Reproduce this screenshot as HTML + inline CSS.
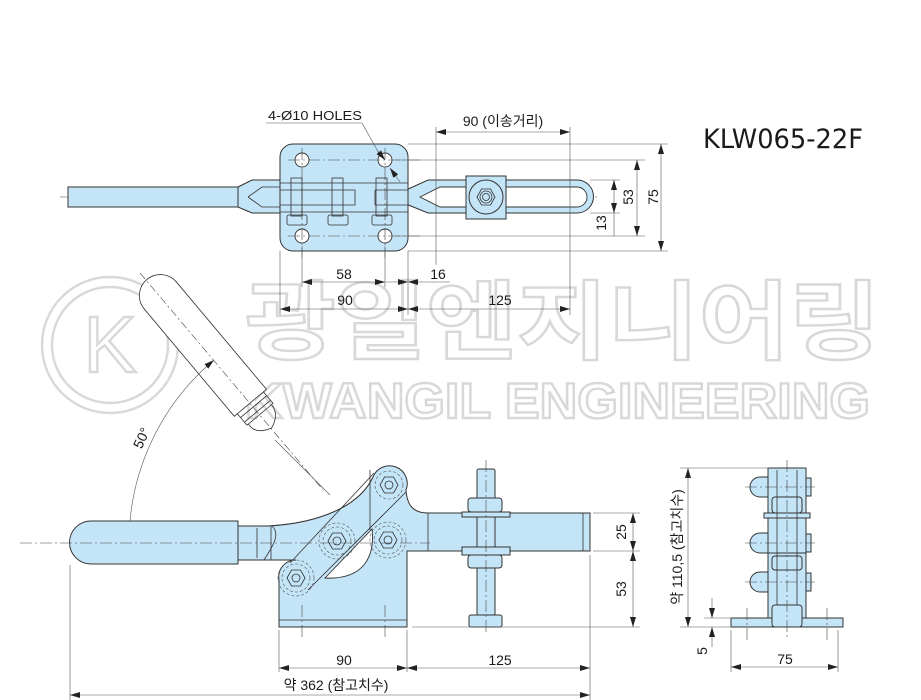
<!DOCTYPE html>
<html><head><meta charset="utf-8"><style>
html,body{margin:0;padding:0;background:#fff}
svg{display:block}
text{font-family:"Liberation Sans","Noto Sans CJK KR",sans-serif;fill:#1a1a1a}
.o{fill:#c4e4f7;stroke:#333;stroke-width:1}
.l{fill:none;stroke:#333;stroke-width:0.8}
.t{fill:none;stroke:#555;stroke-width:0.6}
.c{fill:none;stroke:#444;stroke-width:0.6;stroke-dasharray:12 3 2 3}
.d{fill:none;stroke:#555;stroke-width:0.6;stroke-dasharray:3 2}
.w{fill:#fff;stroke:#333;stroke-width:0.9}
.wm{fill:#fff;stroke:#d8d8d8;stroke-width:2.4}
</style></head><body>
<svg width="921" height="700" viewBox="0 0 921 700" xmlns="http://www.w3.org/2000/svg">
<defs>
<marker id="a" viewBox="0 0 10 6" refX="10" refY="3" markerWidth="10" markerHeight="6" orient="auto-start-reverse" markerUnits="userSpaceOnUse"><path d="M0,0 L10,3 L0,6 Z" fill="#222"/></marker>
</defs>

<!-- watermark -->
<circle cx="110" cy="345" r="68" class="wm" style="fill:none"/>
<circle cx="110" cy="345" r="58" class="wm" style="fill:none"/>
<text x="110" y="372" font-size="80" text-anchor="middle" class="wm" style="font-family:'Liberation Sans',sans-serif">K</text>
<text x="245" y="352" font-size="86" textLength="635" lengthAdjust="spacingAndGlyphs" class="wm" style="font-family:'Liberation Sans','Noto Sans CJK KR',sans-serif;font-weight:bold">광일엔지니어링</text>
<text x="245" y="418" font-size="50" textLength="625" lengthAdjust="spacingAndGlyphs" class="wm" style="font-weight:bold">KWANGIL ENGINEERING</text>

<!-- title -->
<text x="703" y="148" font-size="27" textLength="160" lengthAdjust="spacingAndGlyphs" style="font-family:'DejaVu Sans',sans-serif">KLW065-22F</text>

<!-- ===== TOP VIEW ===== -->
<line x1="60" y1="197" x2="600" y2="197" class="c"/>
<rect x="68" y="187" width="170" height="20" class="o"/>
<path d="M238,187 L252,180 L280,180 L280,213 L252,213 L238,207 Z" class="o"/>
<path d="M248,197 L262,187 L280,187 M248,197 L262,207 L280,207" class="l"/>
<path d="M406,190 L428,180 L577,180 A16.5,16.5 0 0 1 577,213 L428,213 L406,204 Z" class="o"/>
<path d="M420,197 L440,187 L577,187 A10,10 0 0 1 577,207 L440,207 Z" class="w"/>
<rect x="280" y="144" width="128" height="107" rx="13" class="o"/>
<g class="w"><circle cx="302" cy="160" r="7"/><circle cx="385" cy="160" r="7"/><circle cx="302" cy="236" r="7"/><circle cx="385" cy="236" r="7"/></g>
<line x1="302" y1="148" x2="302" y2="258" class="c"/>
<line x1="385" y1="148" x2="385" y2="258" class="c"/>
<line x1="288" y1="160" x2="420" y2="160" class="c"/>
<line x1="288" y1="236" x2="420" y2="236" class="c"/>
<path d="M280,183 L408,183 M280,212 L408,212 M280,190 L355,190 L355,205 L280,205 M375,190 L408,190 M375,205 L408,205 M375,190 L375,205" class="l"/>
<g class="l">
<rect x="291" y="178" width="11" height="38"/><rect x="332" y="178" width="11" height="38"/><rect x="376" y="178" width="11" height="38"/>
<rect x="287" y="215" width="20" height="10" rx="2"/><rect x="328" y="215" width="20" height="10" rx="2"/><rect x="372" y="215" width="20" height="10" rx="2"/>
</g>
<rect x="466" y="176" width="40" height="43" class="o"/>
<circle cx="486" cy="197" r="17" class="o"/>
<polygon points="477,197 481.5,189 490.5,189 495,197 490.5,205 481.5,205" class="l"/>
<circle cx="486" cy="197" r="6" class="l"/><circle cx="486" cy="197" r="3.5" class="l"/>
<text x="268" y="120" font-size="13" textLength="94" lengthAdjust="spacingAndGlyphs">4-Ø10 HOLES</text>
<path d="M266,123 L362,123 L380,155" class="t"/>
<line x1="377" y1="150" x2="385" y2="160" class="t" marker-end="url(#a)"/>
<line x1="400" y1="182" x2="390" y2="168" class="t" marker-end="url(#a)"/>
<line x1="436" y1="127" x2="436" y2="265" class="t"/>
<line x1="570" y1="127" x2="570" y2="315" class="t"/>
<line x1="436" y1="132" x2="570" y2="132" class="t" marker-start="url(#a)" marker-end="url(#a)"/>
<text x="503" y="126" font-size="14" text-anchor="middle">90 (이송거리)</text>
<line x1="408" y1="144" x2="668" y2="144" class="t"/>
<line x1="408" y1="251" x2="668" y2="251" class="t"/>
<line x1="395" y1="160" x2="645" y2="160" class="t"/>
<line x1="395" y1="236" x2="645" y2="236" class="t"/>
<line x1="590" y1="180" x2="620" y2="180" class="t"/>
<line x1="590" y1="213" x2="620" y2="213" class="t"/>
<line x1="661" y1="144" x2="661" y2="251" class="t" marker-start="url(#a)" marker-end="url(#a)"/>
<line x1="637" y1="160" x2="637" y2="236" class="t" marker-start="url(#a)" marker-end="url(#a)"/>
<line x1="614" y1="180" x2="614" y2="236" class="t"/>
<line x1="614" y1="203" x2="614" y2="213" class="t" marker-end="url(#a)"/>
<line x1="614" y1="190" x2="614" y2="180" class="t" marker-end="url(#a)"/>
<text transform="translate(658,197) rotate(-90)" font-size="14" text-anchor="middle">75</text>
<text transform="translate(633,197) rotate(-90)" font-size="14" text-anchor="middle">53</text>
<text transform="translate(606,223) rotate(-90)" font-size="14" text-anchor="middle">13</text>
<line x1="280" y1="251" x2="280" y2="315" class="t"/>
<line x1="408" y1="251" x2="408" y2="315" class="t"/>
<line x1="302" y1="246" x2="302" y2="287" class="t"/>
<line x1="385" y1="246" x2="385" y2="287" class="t"/>
<line x1="302" y1="282" x2="385" y2="282" class="t" marker-start="url(#a)" marker-end="url(#a)"/>
<line x1="386" y1="282" x2="408" y2="282" class="t" marker-end="url(#a)"/>
<line x1="450" y1="282" x2="408" y2="282" class="t" marker-end="url(#a)"/>
<text x="344" y="279" font-size="14" text-anchor="middle">58</text>
<text x="438" y="279" font-size="14" text-anchor="middle">16</text>
<line x1="280" y1="309" x2="408" y2="309" class="t" marker-start="url(#a)" marker-end="url(#a)"/>
<line x1="408" y1="309" x2="570" y2="309" class="t" marker-start="url(#a)" marker-end="url(#a)"/>
<text x="345" y="305" font-size="14" text-anchor="middle">90</text>
<text x="500" y="305" font-size="14" text-anchor="middle">125</text>

<!-- ===== SIDE VIEW ===== -->
<g transform="rotate(50 368 543)">
<path d="M45,522 L185,522 L185,564 L45,564 A21,21 0 0 1 45,522 Z" class="l" style="fill:#fff"/>
<path d="M185,526 L200,526 L200,560 L185,560 M190,526 L190,560 M196,526 L196,560 M200,528 C210,528 215,535 218,543 C215,552 210,560 200,558" class="l"/>
</g>
<line x1="140" y1="273" x2="323" y2="490" class="c" style="stroke-dasharray:8 3 2 3"/>
<path d="M129,543 A239,239 0 0 1 214,360" class="t" marker-start="url(#a)" marker-end="url(#a)"/>
<text transform="translate(146,440) rotate(-65)" font-size="14" text-anchor="middle">50°</text>

<path d="M91,521 L238,521 L238,564 L91,564 A21.5,21.5 0 0 1 91,521 Z" class="o"/>
<path d="M238,526 L268,526 C322,523 360,505 373,477 A17,17 0 0 1 406,490 C407,505 413,513 428,513 L590,513 L590,551 L407,551 L407,627 L279,627 L279,580 A17,17 0 0 1 296,560 L238,560 Z" class="o"/>
<path d="M325,578 L372,529 C375,555 365,580 325,578 Z" class="w"/>
<line x1="279" y1="620" x2="407" y2="620" class="l"/>
<line x1="271" y1="526" x2="271" y2="560" class="l"/>
<line x1="257" y1="528" x2="257" y2="558" class="l"/>
<path d="M272,526 C282,535 270,550 264,560" class="l"/>
<line x1="428" y1="513" x2="428" y2="551" class="l"/>
<line x1="583" y1="513" x2="583" y2="551" class="l"/>
<path d="M290,563 L374,473 M308,590 L406,492" class="l"/>
<line x1="370" y1="470" x2="370" y2="530" class="l"/>
<g>
<circle cx="389" cy="485" r="14" class="d"/><circle cx="337" cy="541" r="14" class="d"/><circle cx="388" cy="540" r="14" class="d"/><circle cx="296" cy="578" r="14" class="d"/>
<circle cx="337" cy="541" r="18" class="d"/><circle cx="388" cy="540" r="18" class="d"/><circle cx="296" cy="578" r="18" class="d"/>
<polygon points="380,485 384.5,477 393.5,477 398,485 393.5,493 384.5,493" class="l"/>
<polygon points="328,541 332.5,533 341.5,533 346,541 341.5,549 332.5,549" class="l"/>
<polygon points="379,540 383.5,532 392.5,532 397,540 392.5,548 383.5,548" class="l"/>
<polygon points="287,578 291.5,570 300.5,570 305,578 300.5,586 291.5,586" class="l"/>
<circle cx="389" cy="485" r="4" class="l"/><circle cx="337" cy="541" r="4" class="l"/><circle cx="388" cy="540" r="4" class="l"/><circle cx="296" cy="578" r="4" class="l"/>
</g>
<line x1="20" y1="543" x2="430" y2="543" class="c"/>
<line x1="302" y1="605" x2="302" y2="640" class="c"/>
<line x1="385" y1="605" x2="385" y2="640" class="c"/>
<line x1="275" y1="440" x2="330" y2="495" class="t"/>
<rect x="477" y="469" width="18" height="158" rx="2" class="o"/>
<rect x="462" y="512" width="48" height="5" class="o"/>
<rect x="468" y="498" width="34" height="14" rx="3" class="o"/>
<rect x="462" y="547" width="48" height="8" class="o"/>
<rect x="468" y="555" width="34" height="13" rx="3" class="o"/>
<rect x="469" y="615" width="33" height="12" rx="2" class="o"/>
<line x1="486" y1="460" x2="486" y2="635" class="c"/>
<line x1="412" y1="627" x2="640" y2="627" class="t"/>
<line x1="593" y1="513" x2="640" y2="513" class="t"/>
<line x1="593" y1="551" x2="640" y2="551" class="t"/>
<line x1="633" y1="513" x2="633" y2="551" class="t" marker-start="url(#a)" marker-end="url(#a)"/>
<line x1="633" y1="551" x2="633" y2="627" class="t" marker-start="url(#a)" marker-end="url(#a)"/>
<text transform="translate(626,532) rotate(-90)" font-size="14" text-anchor="middle">25</text>
<text transform="translate(626,589) rotate(-90)" font-size="14" text-anchor="middle">53</text>
<line x1="279" y1="630" x2="279" y2="672" class="t"/>
<line x1="407" y1="630" x2="407" y2="672" class="t"/>
<line x1="590" y1="555" x2="590" y2="700" class="t"/>
<line x1="70" y1="565" x2="70" y2="700" class="t"/>
<line x1="279" y1="668" x2="407" y2="668" class="t" marker-start="url(#a)" marker-end="url(#a)"/>
<line x1="407" y1="668" x2="590" y2="668" class="t" marker-start="url(#a)" marker-end="url(#a)"/>
<text x="344" y="665" font-size="14" text-anchor="middle">90</text>
<text x="500" y="665" font-size="14" text-anchor="middle">125</text>
<line x1="70" y1="695" x2="590" y2="695" class="t" marker-start="url(#a)" marker-end="url(#a)"/>
<text x="336" y="690" font-size="14" text-anchor="middle">약 362 (참고치수)</text>

<!-- ===== END VIEW ===== -->
<rect x="731" y="618" width="112" height="9" class="o"/>
<rect x="768" y="468" width="38" height="150" class="o"/>
<g class="o">
<path d="M768,477 L760,477 A10,10 0 0 0 760,497 L768,497 Z"/>
<path d="M768,533 L760,533 A10,10 0 0 0 760,553 L768,553 Z"/>
<path d="M768,572 L760,572 A10,10 0 0 0 760,592 L768,592 Z"/>
<rect x="806" y="478" width="5" height="18"/><rect x="806" y="534" width="5" height="18"/><rect x="806" y="573" width="5" height="18"/>
<rect x="764" y="513" width="46" height="5"/>
<rect x="768" y="518" width="38" height="35"/>
<rect x="772" y="497" width="30" height="16" rx="3"/>
<rect x="772" y="556" width="30" height="14" rx="3"/>
<rect x="772" y="605" width="30" height="22" rx="3"/>
</g>
<path d="M777,470 L777,605 M797,470 L797,605" class="l"/>
<line x1="787" y1="460" x2="787" y2="640" class="c"/>
<line x1="745" y1="487" x2="815" y2="487" class="c"/>
<line x1="745" y1="543" x2="815" y2="543" class="c"/>
<line x1="745" y1="582" x2="815" y2="582" class="c"/>
<line x1="747" y1="608" x2="747" y2="640" class="c"/>
<line x1="827" y1="608" x2="827" y2="640" class="c"/>
<line x1="680" y1="468" x2="770" y2="468" class="t"/>
<line x1="680" y1="627" x2="730" y2="627" class="t"/>
<line x1="704" y1="618" x2="730" y2="618" class="t"/>
<line x1="688" y1="468" x2="688" y2="627" class="t" marker-start="url(#a)" marker-end="url(#a)"/>
<text transform="translate(682,547) rotate(-90)" font-size="14" text-anchor="middle">약 110,5 (참고치수)</text>
<line x1="712" y1="598" x2="712" y2="618" class="t" marker-end="url(#a)"/>
<line x1="712" y1="647" x2="712" y2="627" class="t" marker-end="url(#a)"/>
<text transform="translate(707,651) rotate(-90)" font-size="14" text-anchor="middle">5</text>
<line x1="731" y1="630" x2="731" y2="672" class="t"/>
<line x1="838" y1="630" x2="838" y2="672" class="t"/>
<line x1="731" y1="667" x2="838" y2="667" class="t" marker-start="url(#a)" marker-end="url(#a)"/>
<text x="785" y="664" font-size="14" text-anchor="middle">75</text>
</svg>
</body></html>
